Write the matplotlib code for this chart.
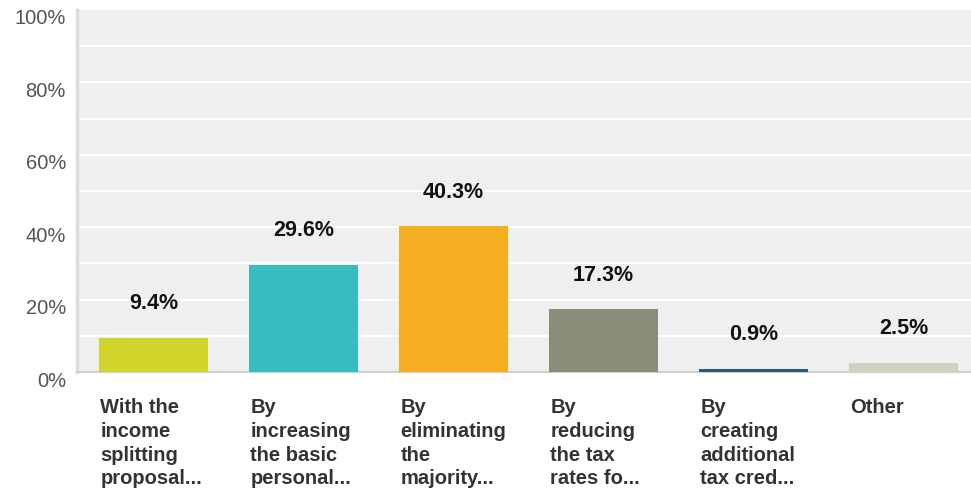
import numpy as np
import matplotlib.pyplot as plt
import matplotlib.transforms as mtransforms

# survey answers
categories = [
    "With the\nincome\nsplitting\nproposal...",
    "By\nincreasing\nthe basic\npersonal...",
    "By\neliminating\nthe\nmajority...",
    "By\nreducing\nthe tax\nrates fo...",
    "By\ncreating\nadditional\ntax cred...",
    "Other",
]
percent = [9.4, 29.6, 40.3, 17.3, 0.9, 2.5]
colors = ["#d0d42b", "#35bdbf", "#f5ae20", "#8a8b79", "#2b5d72", "#d1d0c1"]
yticks = [0, 20, 40, 60, 80, 100]

plt.rcParams['font.family'] = ['Liberation Sans', 'DejaVu Sans']

W, H = 971, 490
fig = plt.figure(figsize=(W / 100, H / 100), dpi=100)
ax = fig.add_axes([77 / W, (H - 372) / H, (W - 77) / W, 362 / H])
ax.set_facecolor("#efefef")

x = np.arange(len(categories))
ax.bar(x, percent, width=0.727, color=colors, zorder=3)

# gridlines every 10%
for g in range(10, 100, 10):
    ax.axhline(g, color="white", lw=1.5, zorder=1)

ax.set_ylim(0, 100)
ax.set_xlim(-0.51, 5.45)
ax.set_yticks(yticks)
ax.set_yticklabels([f"{v}%" for v in yticks], fontsize=14.5, color="#555555")
ax.tick_params(axis="y", length=0, pad=8)
# labels sit a bit below their gridlines
offset = mtransforms.ScaledTranslation(0, -7 / 100, fig.dpi_scale_trans)
for lab in ax.get_yticklabels():
    lab.set_transform(lab.get_transform() + offset)

ax.set_xticks([])
for s in ["top", "right"]:
    ax.spines[s].set_visible(False)
ax.spines["left"].set_color("#dddddd")
ax.spines["left"].set_linewidth(2.5)
ax.spines["bottom"].set_color("#d0d0d0")
ax.spines["bottom"].set_linewidth(1.5)

# value labels above bars
for xi, v in zip(x, percent):
    ax.annotate(f"{v}%", (xi, v), xytext=(0, 34), textcoords="offset pixels",
                ha="center", va="center", fontsize=15.5, fontweight="bold",
                color="#111111")

# category labels below
for xi, c in zip(x, categories):
    ax.annotate(c, (xi - 0.355, 0), xytext=(0, -26), textcoords="offset pixels",
                ha="left", va="top", fontsize=14.5, fontweight="bold",
                color="#333333", linespacing=1.32, annotation_clip=False)

fig.savefig("out.png", dpi=100)
